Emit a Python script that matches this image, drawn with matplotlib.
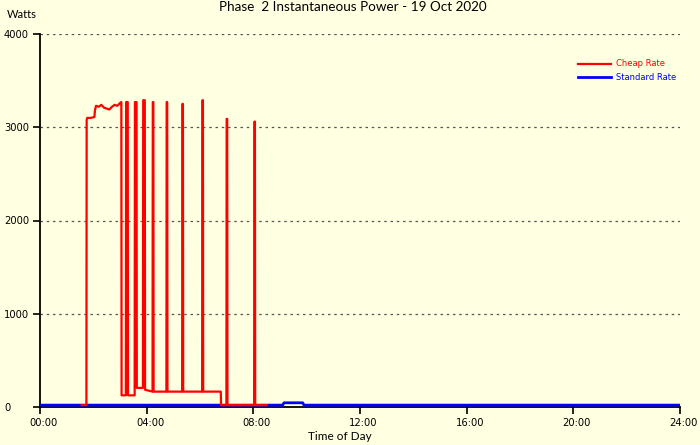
import matplotlib
matplotlib.use("Agg")
import matplotlib.pyplot as plt
import matplotlib.transforms as mtransforms

# ---- data (hours of day, watts) ----
red_hours = [1.56, 1.74, 1.75, 1.77, 1.90, 2.04, 2.06, 2.10, 2.20, 2.30, 2.40, 2.50,
             2.60, 2.70, 2.80, 2.90, 3.00, 3.05, 3.06, 3.22, 3.23, 3.29, 3.30,
             3.55, 3.56, 3.62, 3.63, 3.86, 3.87, 3.93, 3.94, 4.22, 4.23, 4.25, 4.26,
             4.74, 4.75, 4.77, 4.78, 5.33, 5.34, 5.36, 5.37, 6.08, 6.09, 6.11, 6.12,
             6.78, 6.79, 6.99, 7.00, 7.02, 7.03, 8.03, 8.04, 8.06, 8.07, 8.50]
red_watts = [20, 20, 3080, 3100, 3100, 3110, 3180, 3230, 3220, 3240, 3210, 3200,
             3190, 3220, 3240, 3230, 3260, 3270, 125, 125, 3270, 3270, 125,
             125, 3270, 3270, 205, 205, 3290, 3290, 185, 165, 3270, 3270, 165,
             165, 3270, 3270, 165, 165, 3250, 3250, 165, 165, 3290, 3290, 165,
             165, 20, 20, 3090, 3090, 20, 20, 3060, 3060, 20, 20]

blue_hours = [0.0, 1.56, 8.50, 9.10, 9.15, 9.85, 9.90, 24.0]
blue_watts = [20, 20, 20, 20, 45, 45, 20, 20]

x_ticks = [0, 4, 8, 12, 16, 20, 24]
x_labels = ["00:00", "04:00", "08:00", "12:00", "16:00", "20:00", "24:00"]
y_ticks = [0, 1000, 2000, 3000, 4000]

title = "Phase  2 Instantaneous Power - 19 Oct 2020"
bg = "#FFFFE1"

fig = plt.figure(figsize=(7.0, 4.45), dpi=100, facecolor=bg)
ax = fig.add_axes([40/700, 1-407/445, 640/700, (407-34)/445])
ax.set_facecolor(bg)

ax.plot(blue_hours, blue_watts, color="#0000FF", lw=2.0, label="Standard Rate", zorder=3)
ax.plot(red_hours, red_watts, color="#FF0000", lw=1.6, label="Cheap Rate", zorder=4)

ax.set_xlim(0, 24)
ax.set_ylim(0, 4000)
ax.set_xticks(x_ticks)
ax.set_xticklabels(x_labels)
ax.set_yticks(y_ticks)
for v in y_ticks[1:]:
    ax.axhline(v, color="#555555", lw=0.9, ls=(0, (2, 3)), zorder=1)

for s in ["top", "right"]:
    ax.spines[s].set_visible(False)
for s in ["left", "bottom"]:
    ax.spines[s].set_color("black")
    ax.spines[s].set_linewidth(1.3)
ax.tick_params(axis="both", direction="out", length=5, width=1.2, labelsize=7.2,
               colors="black")
ax.tick_params(axis="x", pad=3)
ax.tick_params(axis="y", pad=21)
for lab in ax.get_yticklabels():
    lab.set_family("DejaVu Sans")
    lab.set_horizontalalignment("left")
shift = mtransforms.ScaledTranslation(3.5/100, 0, fig.dpi_scale_trans)
for lab in ax.get_xticklabels():
    lab.set_family("DejaVu Sans")
    lab.set_transform(lab.get_transform() + shift)

fig.text(352.5/700, 1-7/445, title, ha="center", va="center",
         fontsize=9.7, family="Lato")
fig.text(7/700, 1-14/445, "Watts", ha="left", va="center", fontsize=8, family="Lato")
fig.text(340/700, 1-436/445, "Time of Day", ha="center", va="center",
         fontsize=8.5, family="Lato")

handles, labels = ax.get_legend_handles_labels()
leg = fig.legend(handles[::-1], labels[::-1], loc="upper left",
                 bbox_to_anchor=(570/700, 1-52/445), frameon=False,
                 labelcolor="linecolor", handlelength=4.0,
                 handletextpad=0.6, labelspacing=0.55,
                 prop={"family": "DejaVu Sans", "size": 6.0})

fig.savefig("out.png", dpi=100, facecolor=bg)
